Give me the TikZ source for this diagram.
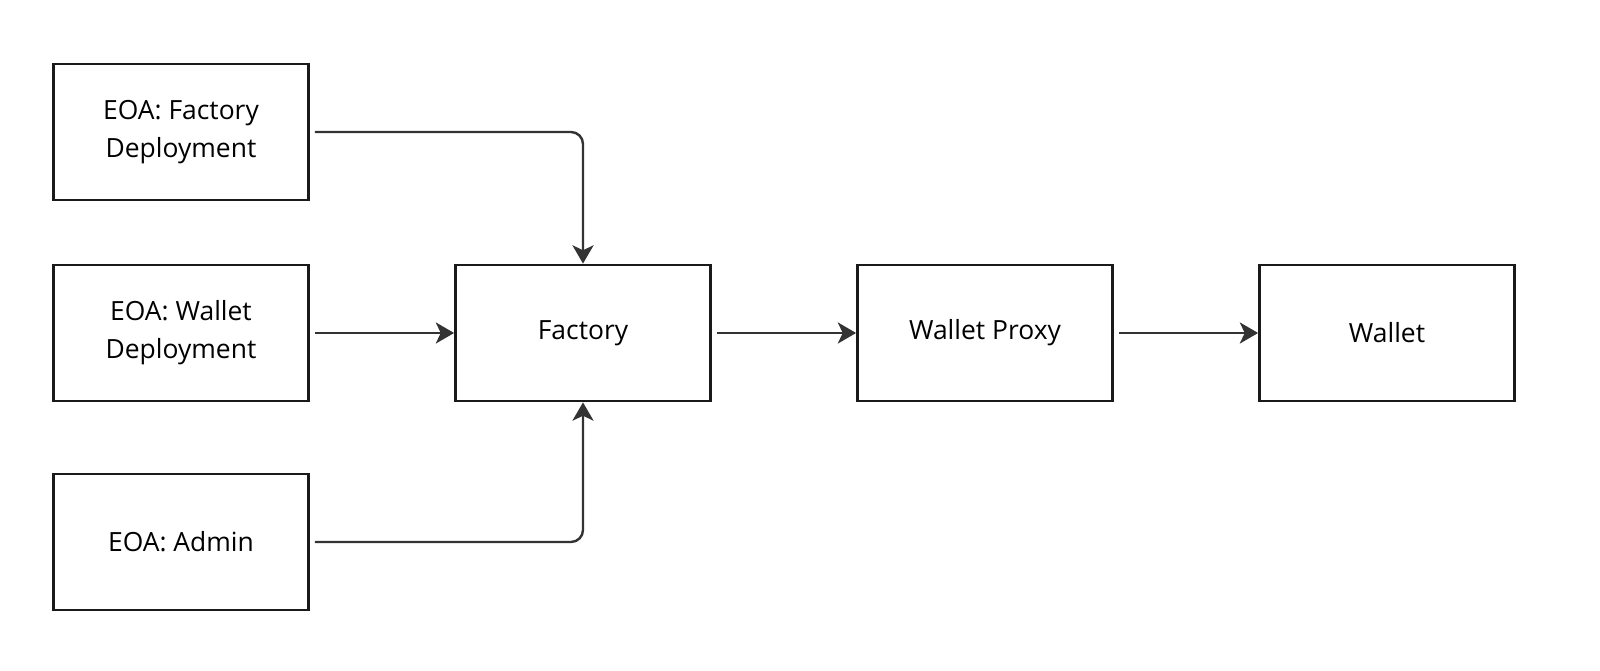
\documentclass[tikz,border=0pt]{standalone}
\usepackage{fontspec}
\setmainfont{Open Sans}
\usetikzlibrary{arrows.meta,positioning}
\definecolor{linegray}{HTML}{333333}
\definecolor{boxline}{HTML}{1A1A1A}

\begin{document}
\begin{tikzpicture}[>={Stealth[length=13pt,width=15pt,inset=3.5pt]},shorten <=3.5pt,node distance=10.05cm,
  block/.style={draw=boxline,line width=2pt,minimum width=6.375cm,minimum height=3.4cm,align=center,
    font=\fontsize{18.8}{27}\selectfont},
  link/.style={->,draw=linegray,line width=1.7pt,rounded corners=0.3cm}]

\useasboundingbox (0,0) rectangle (40,16.775);

\node[block] (fac) at (14.575,8.45) {Factory};
\node[block] (wd)  [left of=fac]   {EOA: Wallet\\Deployment};
\node[block] (fd)  [above of=wd,node distance=5.025cm] {EOA: Factory\\Deployment};
\node[block] (adm) [below of=wd,node distance=5.225cm] {EOA: Admin};
\node[block] (prx) [right of=fac]  {Wallet Proxy};
\node[block] (wal) [right of=prx]  {Wallet};

\path[link] (fd)  -| (fac);
\path[link] (wd)  -- (fac);
\path[link] (adm) -| (fac);
\path[link] (fac) -- (prx);
\path[link] (prx) -- (wal);

\end{tikzpicture}
\end{document}
